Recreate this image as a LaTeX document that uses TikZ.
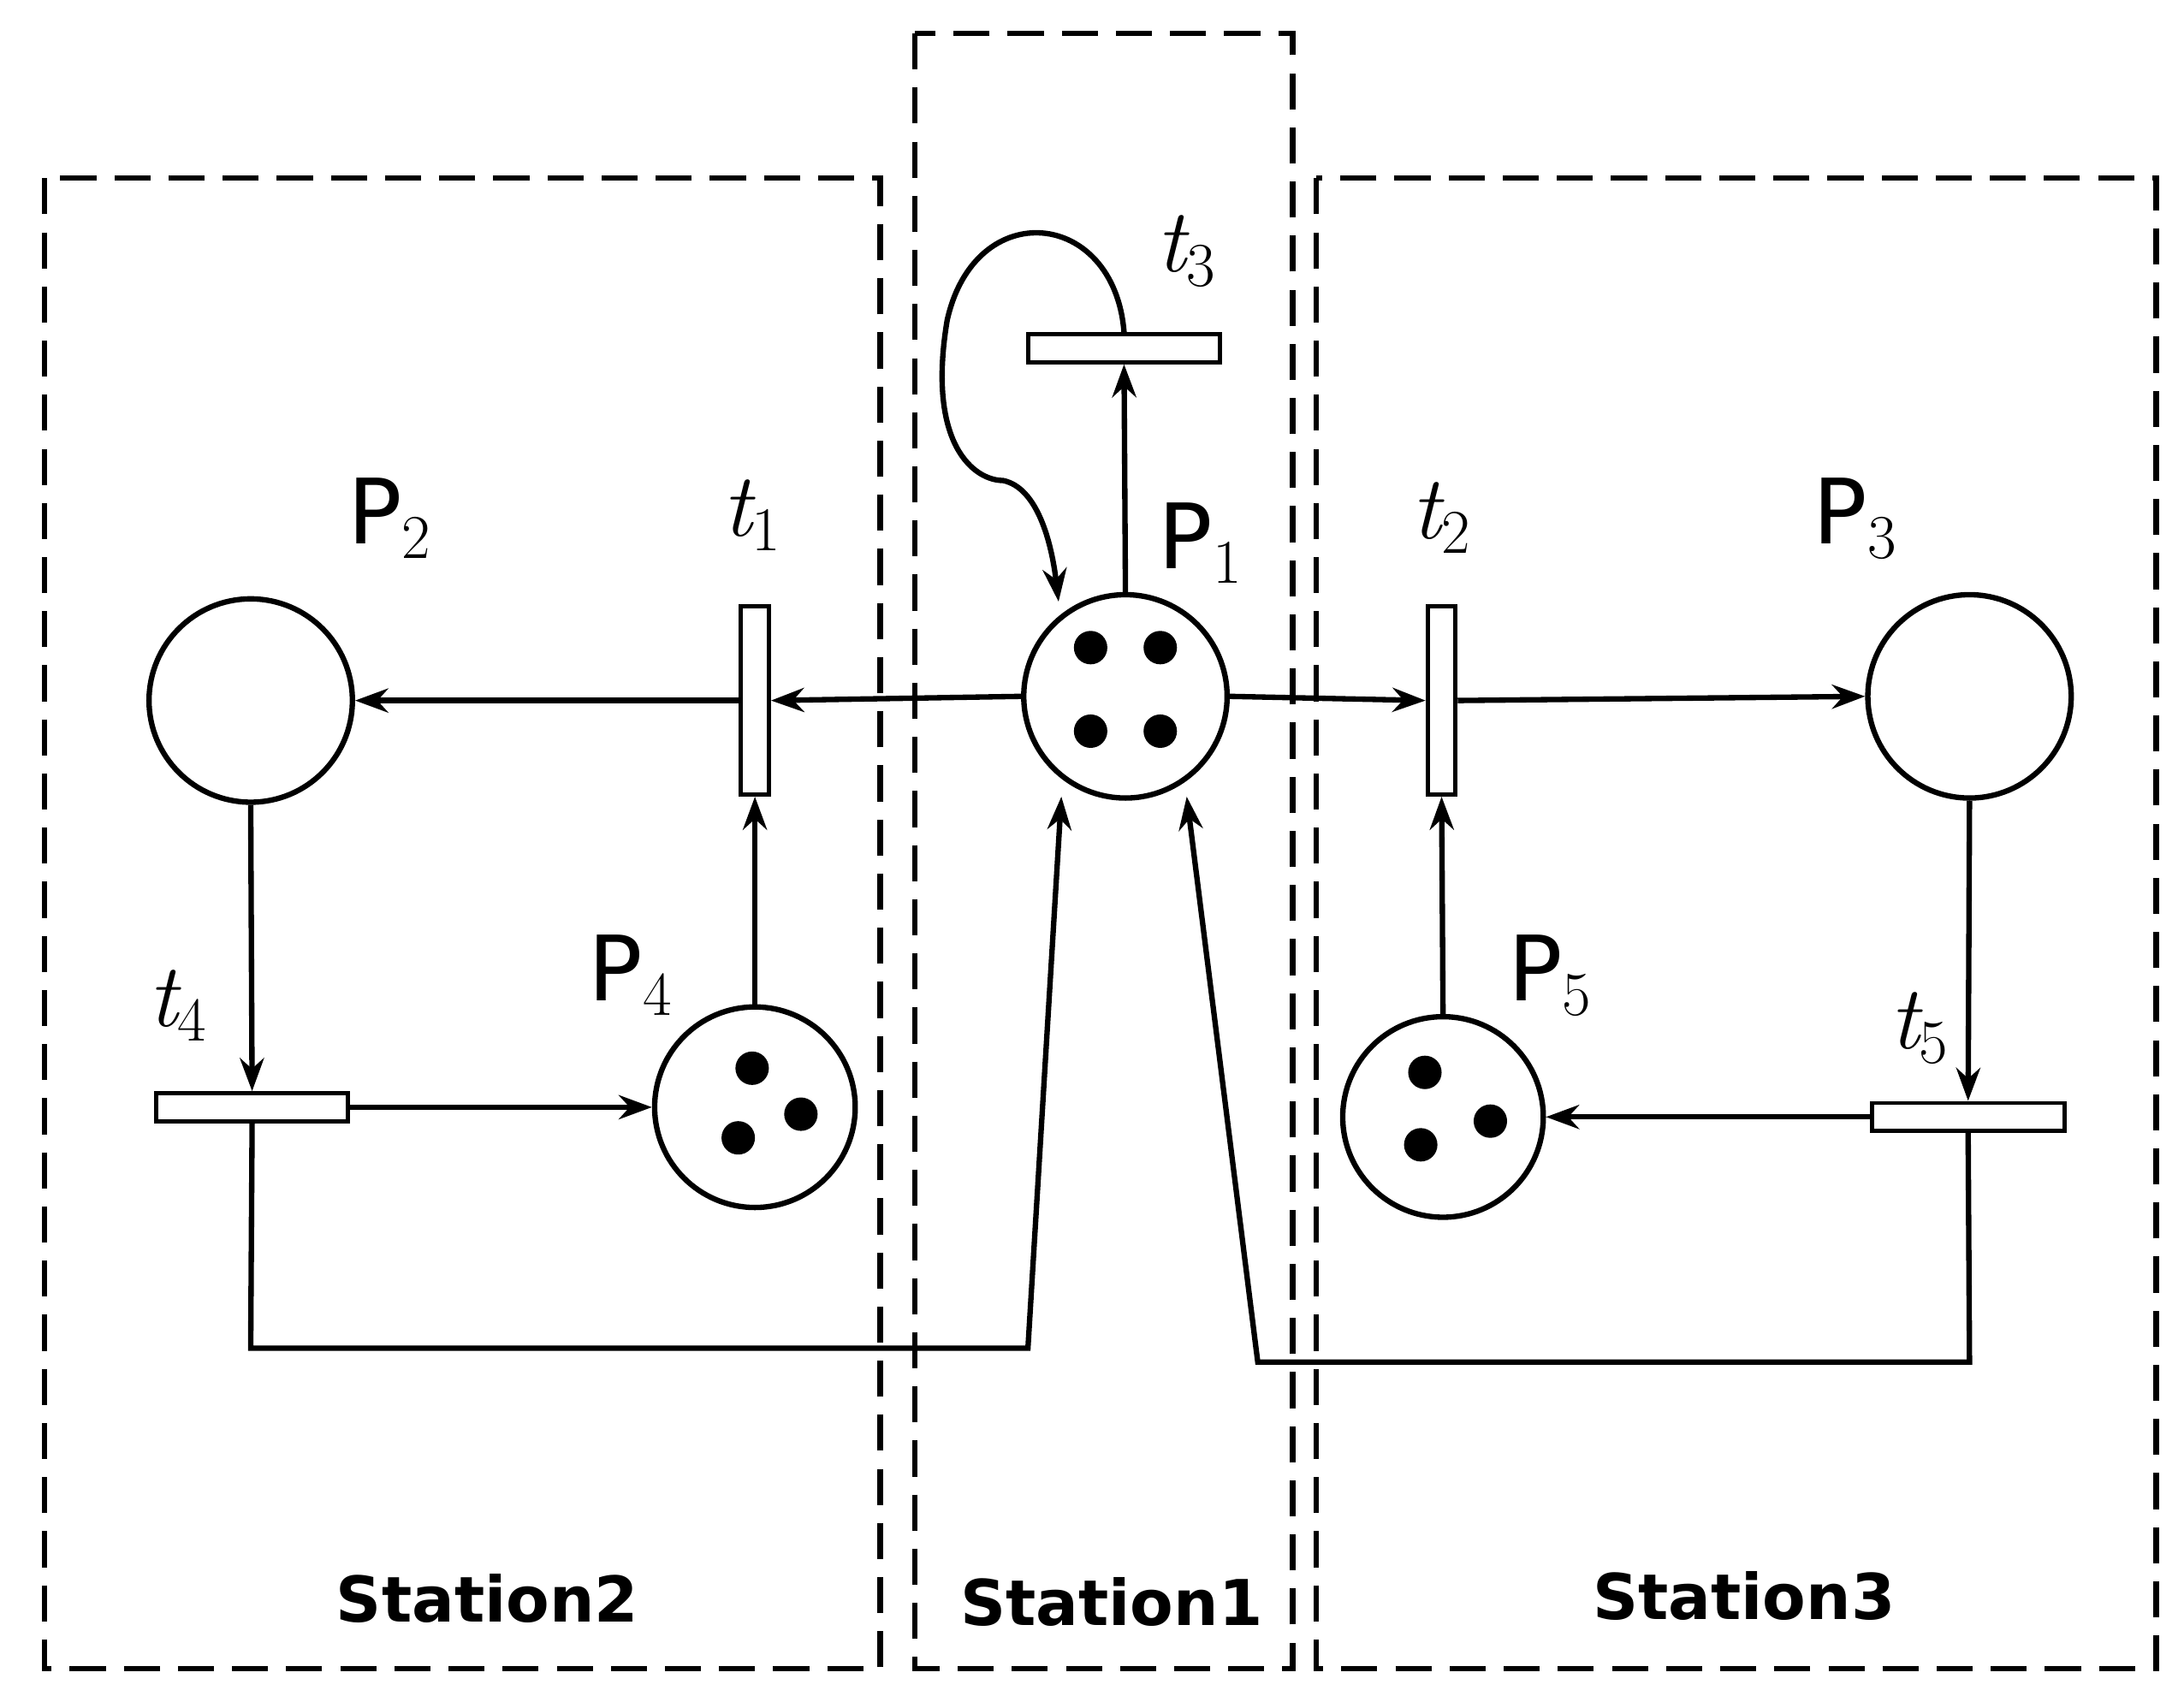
\documentclass[tikz,border=0pt]{standalone}
\usepackage{fontspec}
\setsansfont{DejaVu Sans}
\usetikzlibrary{arrows.meta}
\begin{document}
\begin{tikzpicture}[x=0.016276cm,y=-0.016276cm,
  line width=1.8pt,
  place/.style={circle,draw,minimum size=146*0.016276cm,inner sep=0pt},
  hbar/.style={rectangle,draw,minimum width=138*0.016276cm,minimum height=20*0.016276cm,inner sep=0pt,line width=1.4pt},
  vbar/.style={rectangle,draw,minimum width=20*0.016276cm,minimum height=135*0.016276cm,inner sep=0pt,line width=1.4pt},
  tok/.style={circle,fill,inner sep=0pt,minimum size=24*0.016276cm},
  box/.style={draw,dashed,line width=1.8pt,dash pattern=on 12pt off 6pt},
  arr/.style={-{Stealth[length=11pt,width=8pt]}},
  plab/.style={font=\sffamily\fontsize{30}{36}\selectfont},
  tlab/.style={font=\itshape\fontsize{30}{36}\selectfont},
  slab/.style={font=\sffamily\bfseries\fontsize{21}{25}\selectfont}]
\useasboundingbox (0,0) rectangle (1568,1226);
\fill[white] (0,0) rectangle (1568,1226);
\draw[box] (32,128) rectangle (632,1198);
\draw[box] (657,24) rectangle (928,1198);
\draw[box] (945,128) rectangle (1548,1198);
\node[slab] (s2) at (350,1148) {Station2};
\node[slab] (s1) at (798,1150) {Station1};
\node[slab] (s3) at (1252,1146) {Station3};
\node[place] (P1) at (808,500) {};
\node[place] (P2) at (180,503) {};
\node[place] (P3) at (1414,500) {};
\node[place,minimum size=144*0.016276cm] (P4) at (542,795) {};
\node[place,minimum size=144*0.016276cm] (P5) at (1036,802) {};
\foreach \p in {(783,465),(833,465),(783,525),(833,525),(540,767),(575,800),(530,817),(1023,770),(1070,805),(1020,822)} \node[tok] at \p {};
\node[vbar] (t1) at (542,503) {};
\node[vbar] (t2) at (1035,503) {};
\node[hbar] (t3) at (807,250) {};
\node[hbar] (t4) at (181,795) {};
\node[hbar] (t5) at (1413,802) {};
\node[plab] (lP2) at (280,372) {P$_2$};
\node[plab] (lP1) at (862,390) {P$_1$};
\node[plab] (lP3) at (1332,372) {P$_3$};
\node[plab] (lP4) at (453,700) {P$_4$};
\node[plab] (lP5) at (1113,700) {P$_5$};
\node[tlab] (lt1) at (540,370) {t$_1$};
\node[tlab] (lt2) at (1035,372) {t$_2$};
\node[tlab] (lt3) at (852,180) {t$_3$};
\node[tlab] (lt4) at (128,722) {t$_4$};
\node[tlab] (lt5) at (1378,738) {t$_5$};
\coordinate (c1) at (180,968);
\coordinate (c2) at (738,968);
\coordinate (c3) at (1414,978);
\coordinate (c4) at (903,978);
\draw[arr] (P1.west) -- (t1.east);
\draw[arr] (t1.west) -- (P2.east);
\draw[arr] (P1.east) -- (t2.west);
\draw[arr] (t2.east) -- (P3.west);
\draw[arr] (P1.north) -- (t3.south);
\draw[arr] (t3.north) .. controls (800,150) and (700,140) .. (680,230) .. controls (665,320) and (700,345) .. (720,345) .. controls (745,350) and (755,390) .. (760,432);
\draw[arr] (P2.south) -- (t4.north);
\draw[arr] (t4.east) -- (P4.west);
\draw[arr] (P4.north) -- (t1.south);
\draw[arr] (t4.south) -- (c1) -- (c2) -- (762,572);
\draw[arr] (P3.south) -- (t5.north);
\draw[arr] (t5.west) -- (P5.east);
\draw[arr] (P5.north) -- (t2.south);
\draw[arr] (t5.south) -- (c3) -- (c4) -- (852,572);
\end{tikzpicture}
\end{document}
